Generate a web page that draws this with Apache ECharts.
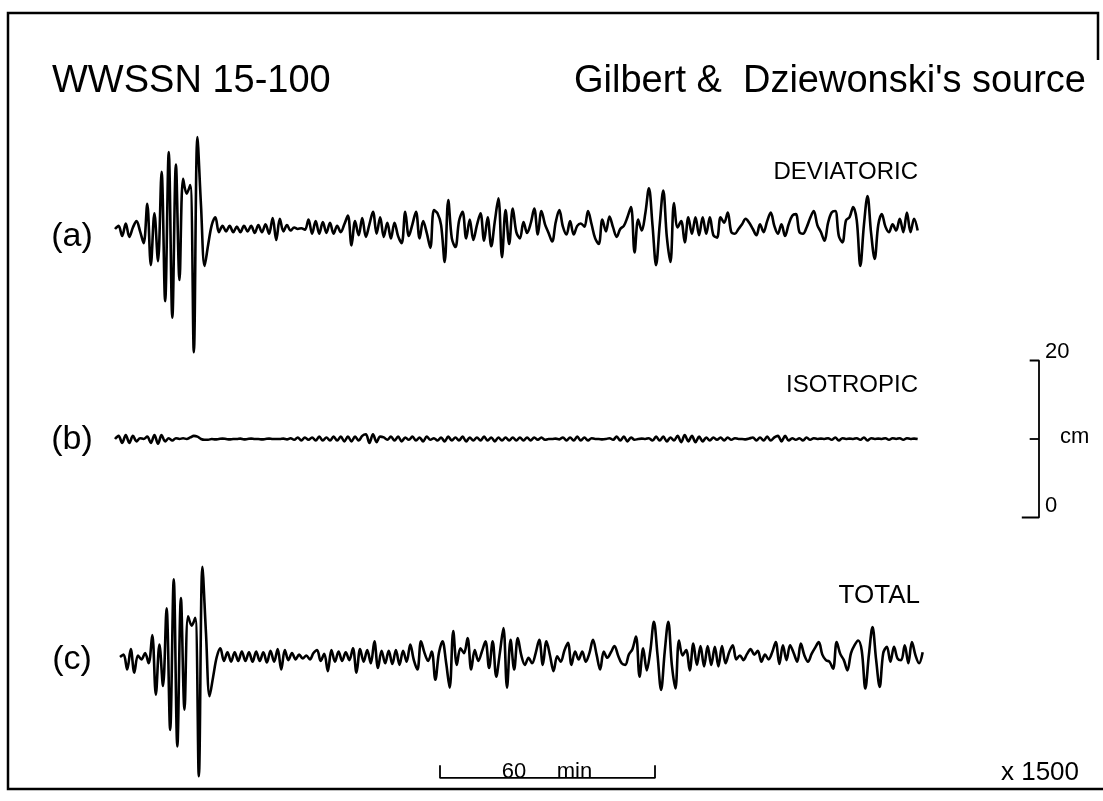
<!DOCTYPE html>
<html>
<head>
<meta charset="utf-8">
<title>WWSSN 15-100</title>
<script src="https://cdn.jsdelivr.net/npm/echarts@6/dist/echarts.min.js"></script>
<style>
  html, body { margin: 0; padding: 0; background: #fff; }
  #main { width: 1103px; height: 801px; }
</style>
</head>
<body>
<div id="main"></div>
<script>
var STEP_MIN = 1;

var deviatoric = [
  0, 0.4, -0.9, 0.7, -1.0, 0.2, 1.0, -0.3, -1.8, 3.2,
  -4.6, 2.0, -4.1, 7.3, -9.2, 9.8, -11.3, 8.2, -6.5, 6.4,
  4.5, 5.6, -15.7, 11.7, 3.0, -4.7, -2.0, 0.5, 1.5, -0.4,
  0.4, -0.3, 0.4, -0.4, 0.3, -0.4, 0.4, -0.3, 0.4, -0.5,
  0.5, -0.4, 0.6, -0.6, 1.4, -1.4, 1.3, -0.3, 0.5, -0.2,
  0.2, 0.0, 0.1, -0.1, 1.2, -0.6, 1.0, -0.6, 0.9, -0.5,
  0.8, -0.6, 0.4, -0.4, 0.6, 1.7, -2.1, 1.0, -0.8, 1.4,
  -1.0, 0.6, 2.2, -0.6, 1.5, -1.0, 0.8, -1.2, 0.8, -0.9,
  -1.8, 2.2, -0.9, 0.6, 2.2, -1.2, 1.0, -0.5, -2.4, 2.4,
  2.0, 0.5, -4.2, 3.7, -1.2, -2.3, 1.0, 2.2, -1.2, 1.2,
  -1.4, 0.5, 2.0, -1.5, 1.5, -2.2, 1.0, 3.9, -3.6, 2.4,
  -1.9, 2.6, -0.4, -1.2, 0.9, -0.5, 0.7, 2.6, -0.7, 2.3,
  0.6, -0.5, -1.6, 0.9, 2.4, 0.3, -0.7, 1.0, -0.7, 0.4,
  0.7, 0.3, 2.3, 0.6, -1.2, -1.9, 1.2, -0.3, 1.6, 0.2,
  -1.0, 0.0, 0.4, 1.5, 2.8, -3.0, 1.2, -0.2, 2.0, 5.2,
  0.5, -4.6, 0.5, 4.9, -1.0, -4.2, 3.3, 0.2, 1.0, -1.7,
  1.5, -0.6, 1.5, -0.8, 1.5, -0.6, 1.5, -0.8, -1.1, 1.5,
  0.8, 2.1, -0.4, -0.6, 0.0, 0.6, 1.3, 0.8, 0.0, -0.8,
  0.6, -0.4, 1.0, 2.1, 0.4, -0.6, 0.6, -0.9, 0.6, 1.7,
  1.9, -0.4, -0.6, 0.2, 1.4, 2.3, 0.5, -0.4, -1.5, 0.8,
  2.1, 2.3, -0.9, -1.7, 1.1, 1.5, 2.8, 1.1, -4.7, 0.5,
  4.2, -0.5, -3.8, 0.5, 1.9, 0.3, -0.4, 0.6, -0.2, 1.3,
  -0.4, 2.1, -0.4, 1.3, -0.2
];

var isotropic = [
  0, 0.4, -0.5, 0.5, -0.5, 0.4, -0.3, 0.1, 0.0, 0.3,
  -0.5, 0.5, -0.6, 0.5, -0.3, 0.1, -0.2, 0.1, 0.0, 0.1,
  0.0, 0.2, 0.4, 0.3, 0.0, -0.1, -0.1, 0.0, -0.05, 0.0,
  0.05, 0.0, -0.05, 0.0, 0.0, 0.05, -0.05, 0.0, 0.05, 0.0,
  0.0, -0.05, 0.0, 0.05, 0.0, 0.0, 0.0, 0.05, -0.05, 0.1,
  -0.1, 0.2, -0.2, 0.2, -0.1, 0.2, -0.2, 0.3, -0.2, 0.2,
  -0.2, 0.3, -0.2, 0.3, -0.3, 0.3, -0.3, 0.3, -0.2, 0.4,
  0.6, -0.5, 0.6, -0.4, 0.3, 0.2, -0.1, 0.3, -0.2, 0.3,
  -0.3, 0.2, -0.1, 0.3, -0.2, 0.2, -0.3, 0.3, -0.1, 0.1,
  -0.2, 0.2, -0.3, 0.3, -0.2, 0.2, -0.2, 0.3, -0.3, 0.2,
  -0.2, 0.2, -0.2, 0.3, -0.2, 0.2, -0.3, 0.2, -0.2, 0.2,
  -0.2, 0.2, -0.2, 0.2, -0.2, 0.2, -0.2, 0.2, -0.1, 0.2,
  -0.1, 0.0, 0.0, 0.05, -0.05, 0.2, -0.2, 0.2, -0.2, 0.3,
  -0.2, 0.2, -0.2, 0.1, 0.0, 0.0, -0.05, 0.0, 0.1, -0.1,
  0.3, -0.2, 0.3, -0.3, 0.2, -0.1, 0.0, 0.05, 0.0, 0.1,
  -0.2, 0.3, -0.2, 0.3, -0.3, 0.2, -0.2, 0.4, -0.4, 0.5,
  -0.3, 0.4, -0.4, 0.3, -0.3, 0.2, -0.2, 0.2, -0.1, 0.2,
  -0.2, 0.2, -0.1, 0.1, 0.0, 0.0, -0.05, 0.05, 0.2, -0.2,
  0.2, -0.2, 0.3, -0.2, 0.2, 0.4, -0.3, 0.4, -0.2, 0.1,
  -0.1, 0.1, -0.2, 0.2, -0.1, 0.1, 0.0, 0.05, 0.0, 0.1,
  -0.1, 0.2, -0.2, 0.1, 0.0, 0.05, 0.0, 0.1, -0.1, 0.2,
  -0.2, 0.1, 0.0, 0.05, 0.0, 0.1, -0.1, 0.1, 0.0, 0.1,
  -0.1, 0.1, 0.0, 0.05, 0.0
];

var total = [
  0, 0.3, -1.6, 1.0, -2.0, 0.2, -0.3, 0.5, -0.8, 2.8,
  -4.8, 1.6, -3.7, 6.2, -9.3, 9.9, -11.4, 7.5, -6.7, 5.2,
  4.0, 5.0, -15.2, 11.5, 3.0, -5.0, -2.5, 0.0, 1.1, -0.5,
  0.6, -0.6, 0.6, -0.5, 0.7, -0.5, 0.6, -0.6, 0.7, -0.5,
  0.6, -0.7, 0.8, -0.6, 1.0, -1.6, 0.9, -0.4, 0.5, -0.3,
  0.3, -0.2, 0.2, -0.3, 0.5, 0.9, -0.5, 0.4, -1.8, 0.9,
  -0.6, 0.7, -0.5, 0.6, -0.4, 1.1, -2.0, 1.0, -0.6, 0.9,
  -0.8, 2.0, -1.4, 0.8, -0.8, 0.8, -0.9, 0.9, -1.0, 0.8,
  -0.6, 1.6, -0.4, -1.6, 2.0, 0.5, -0.5, 0.7, -2.9, 0.5,
  2.0, -0.7, -3.9, 3.3, -1.0, 1.1, 0.5, 2.4, -1.6, 0.9,
  -0.5, 0.7, 2.0, -1.4, 2.0, -2.5, 0.5, 3.7, -3.9, 2.2,
  -1.6, 2.4, 0.2, -1.0, -0.1, -0.8, 0.5, 2.2, -1.0, 2.0,
  0.2, -1.8, 0.1, -0.6, 0.8, 1.8, -1.0, 0.7, -0.3, 0.7,
  -0.6, 0.5, 2.2, 0.3, -1.6, 0.7, -0.1, 0.6, 1.4, 0.2,
  -0.8, -1.0, 0.3, 1.0, 2.6, -2.5, 1.1, -1.7, 0.8, 4.5,
  0.3, -4.2, 0.6, 4.5, -1.0, -4.0, 2.1, 0.2, 0.9, -1.7,
  1.7, -1.0, 1.4, -1.2, 1.4, -1.0, 1.3, -1.2, 1.4, -0.8,
  0.6, 1.5, -0.3, 0.2, -0.4, 0.4, 1.0, 0.3, 0.8, -0.6,
  0.3, -0.3, 0.6, 1.9, -0.9, 1.5, -0.4, 1.5, 0.5, -0.6,
  1.7, 0.2, -0.6, 0.4, 1.2, 1.9, 0.3, -0.4, -0.6, -1.5,
  1.9, 0.4, -0.4, -1.7, 0.5, 1.5, 2.1, 0.8, -4.0, 0.3,
  3.8, -0.3, -3.8, 0.5, 1.3, -0.6, 1.3, -0.2, -0.4, 1.5,
  -0.8, 1.9, 0.2, -0.8, 0.6
];

var traceLabels = ['(a)', '(b)', '(c)'];
var traceTitles = ['DEVIATORIC', 'ISOTROPIC', 'TOTAL'];
var timeBarMin = 60;            // horizontal scale bar
var ampBarCm = 20;              // vertical scale bar
var ampBarLabels = ['20', 'cm', '0'];
var gainLabel = 'x 1500';

// layout
var PX_PER_MIN = 215 / 60;
var PX_PER_CM = 7.85;
var X_MAX = 270, Y_MIN = -18, Y_MAX = 20;
var baselines = [229, 439, 657];
var lefts = [115, 115, 120];
var FONT = '"Liberation Sans", "DejaVu Sans", Arial, sans-serif';
var INK = '#000';

function toPairs(arr) {
  return arr.map(function (v, i) { return [i * STEP_MIN, v]; });
}

var chart = echarts.init(document.getElementById('main'), null, { renderer: 'canvas' });

var grids = [], xAxes = [], yAxes = [];
baselines.forEach(function (b, i) {
  grids.push({
    left: lefts[i], top: b - Y_MAX * PX_PER_CM,
    width: X_MAX * PX_PER_MIN, height: (Y_MAX - Y_MIN) * PX_PER_CM
  });
  xAxes.push({ gridIndex: i, type: 'value', min: 0, max: X_MAX, show: false });
  yAxes.push({ gridIndex: i, type: 'value', min: Y_MIN, max: Y_MAX, show: false });
});

function trace(idx, arr) {
  return {
    type: 'line', xAxisIndex: idx, yAxisIndex: idx,
    data: toPairs(arr), showSymbol: false, smooth: 0.35,
    lineStyle: { color: INK, width: 2.6 }, silent: true
  };
}
function bar(idx, pts, w) {
  return {
    type: 'line', xAxisIndex: idx, yAxisIndex: idx, data: pts,
    showSymbol: false, clip: false, silent: true,
    lineStyle: { color: INK, width: w || 1.8 }
  };
}

// scale bar positions
var ampBarT = (1039 - lefts[1]) / PX_PER_MIN;
var half = ampBarCm / 2;
var timeBarT = (440 - lefts[2]) / PX_PER_MIN;
var timeBarY = -15.4, timeTickY = -13.8;

var series = [
  trace(0, deviatoric),
  trace(1, isotropic),
  trace(2, total),
  bar(1, [[ampBarT - 2.6, half], [ampBarT, half], [ampBarT, -half], [ampBarT - 4.8, -half]]),
  bar(1, [[ampBarT - 2.6, 0], [ampBarT, 0]]),
  bar(2, [[timeBarT, timeTickY], [timeBarT, timeBarY], [timeBarT + timeBarMin, timeBarY], [timeBarT + timeBarMin, timeTickY]])
];

function txt(s, x, y, size, align) {
  return {
    type: 'text', x: x, y: y, silent: true,
    style: { text: s, font: size + 'px ' + FONT, fill: INK, align: align || 'left', verticalAlign: 'middle' }
  };
}

var graphics = [
  { type: 'polyline', silent: true,
    shape: { points: [[1098, 60], [1098, 13], [8, 13], [8, 789], [1103, 789]] },
    style: { stroke: INK, lineWidth: 2.5, fill: null } },
  txt('WWSSN 15-100', 52, 82, 38),
  txt("Gilbert &  Dziewonski's source", 1086, 82, 38, 'right'),
  txt(traceTitles[0], 918, 172, 24, 'right'),
  txt(traceTitles[1], 918, 385, 24, 'right'),
  txt(traceTitles[2], 920, 596, 26, 'right'),
  txt(traceLabels[0], 72, 237, 34, 'center'),
  txt(traceLabels[1], 72, 440, 34, 'center'),
  txt(traceLabels[2], 72, 660, 34, 'center'),
  txt(ampBarLabels[0], 1045, 352, 22),
  txt(ampBarLabels[1], 1060, 437, 22),
  txt(ampBarLabels[2], 1045, 506, 22),
  txt(timeBarMin + '     min', 547, 772, 22, 'center'),
  txt(gainLabel, 1040, 773, 26, 'center')
];

chart.setOption({
  backgroundColor: '#fff',
  animation: false,
  grid: grids,
  xAxis: xAxes,
  yAxis: yAxes,
  series: series,
  graphic: graphics
});
</script>
</body>
</html>
